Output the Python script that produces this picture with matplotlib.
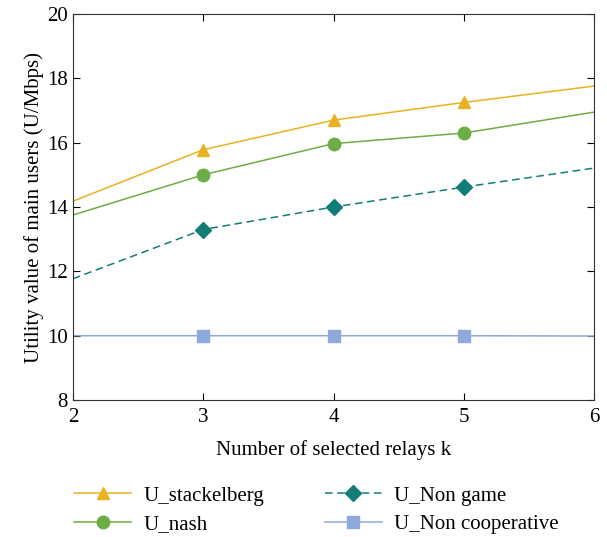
import numpy as np
import matplotlib.pyplot as plt

plt.rcParams['font.family'] = ['Liberation Serif', 'DejaVu Serif']

k = [2, 3, 4, 5, 6]
u_stackelberg = [14.18, 15.78, 16.7, 17.25, 17.76]
u_nash = [13.75, 15.0, 15.97, 16.3, 16.95]
u_non_game = [11.77, 13.3, 14.0, 14.62, 15.21]
u_non_coop = [10.0, 10.0, 10.0, 10.0, 9.99]

fig = plt.figure(figsize=(6.07, 5.37), dpi=100)
ax = fig.add_axes([0.120, 0.255, 0.859, 0.719])

mk = [1, 2, 3]
ax.plot(k, u_stackelberg, color='#E9B222', lw=1.1, marker='^', ms=9, markevery=mk, label='U_stackelberg')
ax.plot(k, u_nash, color='#6DAD46', lw=1.1, marker='o', ms=9, markevery=mk, label='U_nash')
ax.plot(k, u_non_game, color='#127D77', lw=1.1, ls=(0, (5, 3)), marker='D', ms=8, markevery=mk, label='U_Non game')
ax.plot(k, u_non_coop, color='#8EA9DB', lw=1.1, marker='s', ms=8, markevery=mk, label='U_Non cooperative')

ax.set_xlim(2, 6)
ax.set_ylim(8, 20)
ax.set_xticks([2, 3, 4, 5, 6])
ax.set_yticks([8, 10, 12, 14, 16, 18, 20])
ax.tick_params(direction='in', top=True, right=True, labelsize=15, length=5)
ax.tick_params(axis='x', pad=6)
for s in ax.spines.values():
    s.set_color('#333333')
ax.set_xlabel('Number of selected relays k', fontsize=15, labelpad=9)
ax.set_ylabel('Utility value of main users (U/Mbps)', fontsize=15, labelpad=2)

ax.legend(loc='center left', bbox_to_anchor=(-0.033, -0.285), ncol=2, frameon=False,
          fontsize=15, handlelength=2.7, handletextpad=0.6, columnspacing=2.95, labelspacing=0.42)

fig.savefig('out.png', dpi=100)
